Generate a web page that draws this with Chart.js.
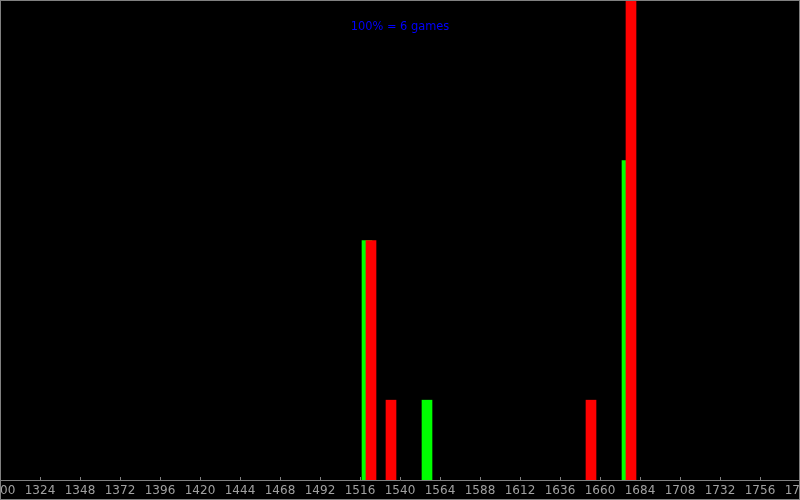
<!DOCTYPE html>
<html>
<head>
<meta charset="utf-8">
<script src="https://cdn.jsdelivr.net/npm/chart.js@4/dist/chart.umd.min.js"></script>
<style>
  html, body { margin: 0; padding: 0; background: #000; }
  #wrap { width: 800px; height: 500px; }
</style>
</head>
<body>
<div id="wrap"><canvas id="grafica"></canvas></div>
<script>
// rating positions (x) and number of games (y)
const ratingsVerde = [1520.2, 1556.2, 1676.2];
const partidasVerde = [3, 1, 4];
const ratingsRojo = [1522.6, 1534.6, 1654.6, 1678.6];
const partidasRojo = [3, 1, 1, 6];
const totalPartidas = 6;
const ejeMin = 1300;
const ejeMax = 1780;
const pasoEje = 24;
const titulo = '100% = 6 games';

function puntos(xs, ys) {
    return xs.map((x, i) => ({ x: x, y: ys[i] }));
}

const fondoYMarco = {
    id: 'fondoYMarco',
    beforeDraw(chart) {
        const ctx = chart.ctx;
        ctx.save();
        ctx.fillStyle = '#000000';
        ctx.fillRect(0, 0, chart.width, chart.height);
        ctx.restore();
    },
    afterDraw(chart) {
        const ctx = chart.ctx;
        const x = chart.scales.x;
        const abajo = chart.chartArea.bottom;
        ctx.save();
        ctx.strokeStyle = '#808080';
        ctx.lineWidth = 1;
        // small tick marks pointing up from the axis
        x.ticks.forEach(t => {
            const px = Math.round(x.getPixelForValue(t.value)) + 0.5;
            ctx.beginPath();
            ctx.moveTo(px, abajo - 3);
            ctx.lineTo(px, abajo);
            ctx.stroke();
        });
        // frame
        ctx.strokeRect(0.5, 0.5, chart.width - 1, chart.height - 1);
        // title
        ctx.fillStyle = '#0000ff';
        ctx.font = '11.4px "DejaVu Sans"';
        ctx.textAlign = 'center';
        ctx.textBaseline = 'alphabetic';
        ctx.fillText(titulo, (chart.chartArea.left + chart.chartArea.right) / 2, 30);
        ctx.restore();
    }
};

const ctx = document.getElementById('grafica').getContext('2d');
const chart = new Chart(ctx, {
    type: 'bar',
    data: {
        datasets: [{
            data: puntos(ratingsRojo, partidasRojo),
            backgroundColor: '#ff0000',
            order: 0
        }, {
            data: puntos(ratingsVerde, partidasVerde),
            backgroundColor: '#00ff00',
            order: 1
        }]
    },
    options: {
        responsive: true,
        maintainAspectRatio: false,
        animation: false,
        layout: { padding: { top: 1, left: 0, right: 0, bottom: 0 } },
        datasets: {
            bar: {
                barThickness: 10,
                grouped: false,
                borderWidth: 0
            }
        },
        plugins: {
            legend: { display: false },
            tooltip: { enabled: false },
            title: { display: false }
        },
        scales: {
            x: {
                type: 'linear',
                min: ejeMin,
                max: ejeMax,
                offset: false,
                grid: { display: false, drawTicks: false },
                border: { display: true, color: '#808080', width: 1 },
                ticks: {
                    stepSize: pasoEje,
                    autoSkip: false,
                    maxRotation: 0,
                    padding: 4,
                    color: '#a0a0a0',
                    font: { family: 'DejaVu Sans', size: 12 },
                    callback: v => String(v)
                },
                afterFit(scale) {
                    scale.paddingLeft = 0;
                    scale.paddingRight = 0;
                    scale.height = 20;
                }
            },
            y: {
                display: false,
                min: 0,
                max: totalPartidas
            }
        }
    },
    plugins: [fondoYMarco]
});
</script>
</body>
</html>
